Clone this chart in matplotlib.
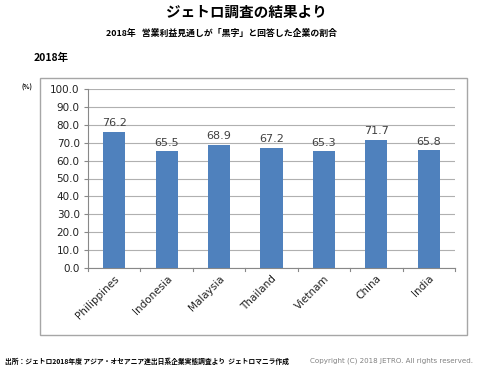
import matplotlib
matplotlib.use('Agg')
import matplotlib.pyplot as plt
from matplotlib.patches import Rectangle

plt.rcParams['font.family'] = ['Noto Sans CJK JP', 'DejaVu Sans']

countries = ['Philippines', 'Indonesia', 'Malaysia', 'Thailand', 'Vietnam', 'China', 'India']
values = [76.2, 65.5, 68.9, 67.2, 65.3, 71.7, 65.8]
yticks = [0, 10, 20, 30, 40, 50, 60, 70, 80, 90, 100]

W, H = 479, 368
fig = plt.figure(figsize=(W / 100, H / 100), dpi=100)

# outer chart frame
fig.patches.append(Rectangle((40 / W, 1 - 335 / H), 427 / W, 257 / H, transform=fig.transFigure,
                             fill=False, edgecolor='#a6a6a6', linewidth=1.0))

ax = fig.add_axes([88 / W, 1 - 268 / H, 367 / W, 179 / H])
x = range(len(countries))
ax.bar(x, values, width=0.42, color='#4f81bd', zorder=3)
for i, v in enumerate(values):
    ax.text(i, v + 1.8, '%.1f' % v, ha='center', va='bottom', fontsize=8, color='#404040',
            family='DejaVu Sans')

ax.set_xlim(-0.5, len(countries) - 0.5)
ax.set_ylim(0, 100)
ax.set_yticks(yticks)
ax.set_yticklabels(['%.1f' % t for t in yticks], fontsize=7.5, family='DejaVu Sans', color='#222222')
ax.set_xticks(list(x))
ax.set_xticklabels(countries, rotation=45, ha='right', rotation_mode='anchor', fontsize=7.5,
                   family='DejaVu Sans', color='#222222')
ax.tick_params(axis='x', length=0, pad=4)
ax.tick_params(axis='y', length=3, color='#888888', pad=3)
# tick marks between categories
for b in [i - 0.5 for i in range(len(countries) + 1)]:
    ax.plot([b, b], [0, -1.8], color='#888888', lw=0.8, clip_on=False, zorder=4)
ax.grid(axis='y', color='#b0b0b0', linewidth=0.8, zorder=0)
for s in ['top', 'right']:
    ax.spines[s].set_visible(False)
ax.spines['left'].set_color('#888888')
ax.spines['bottom'].set_color('#888888')

fig.text(246 / W, 1 - 12 / H, 'ジェトロ調査の結果より', ha='center', va='center', fontsize=10.5, weight='bold')
fig.text(221 / W, 1 - 33 / H, '2018年   営業利益見通しが「黒字」と回答した企業の割合', ha='center', va='center',
         fontsize=6.4, weight='bold')
fig.text(34 / W, 1 - 58 / H, '2018年', ha='left', va='center', fontsize=7.5, weight='bold')
fig.text(22 / W, 1 - 87 / H, '(%)', ha='left', va='center', fontsize=4.5, weight='bold')
fig.text(5 / W, 1 - 361 / H, '出所：ジェトロ2018年度 アジア・オセアニア進出日系企業実態調査より  ジェトロマニラ作成',
         ha='left', va='center', fontsize=4.9, weight='bold')
fig.text(473 / W, 1 - 361 / H, 'Copyright (C) 2018 JETRO. All rights reserved.', ha='right', va='center',
         fontsize=5.1, color='#808080', family='DejaVu Sans')

fig.savefig('out.png', dpi=100)
